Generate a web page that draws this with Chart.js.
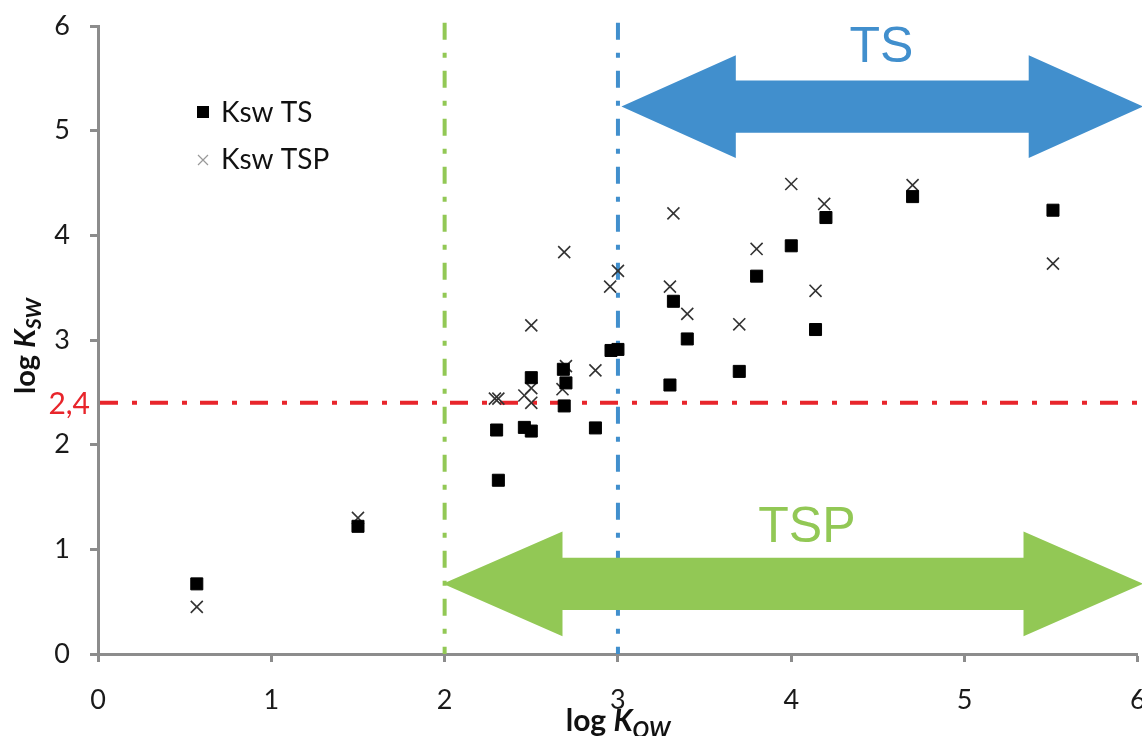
<!DOCTYPE html>
<html>
<head>
<meta charset="utf-8">
<script src="https://cdn.jsdelivr.net/npm/chart.js@4.4.1/dist/chart.umd.min.js"></script>
<style>
  html, body { margin: 0; padding: 0; background: #fff; overflow: hidden; }
  #wrap { width: 1142px; height: 736px; overflow: hidden; }
</style>
</head>
<body>
<div id="wrap"><canvas id="kswChart" width="1148" height="736"></canvas></div>
<script>
// valores (log Kow, log Ksw)
const tsLabel = "Ksw TS";
const tsX = [0.57, 1.50, 2.30, 2.31, 2.46, 2.50, 2.50, 2.685, 2.70, 2.69, 2.87, 2.96, 3.00, 3.30, 3.32, 3.40, 3.70, 3.80, 4.00, 4.14, 4.20, 4.70, 5.51];
const tsY = [0.67, 1.22, 2.14, 1.66, 2.165, 2.13, 2.64, 2.72, 2.59, 2.37, 2.16, 2.90, 2.91, 2.57, 3.37, 3.01, 2.70, 3.61, 3.90, 3.10, 4.17, 4.37, 4.24];

const tspLabel = "Ksw TSP";
const tspX = [0.57, 1.50, 2.29, 2.31, 2.46, 2.50, 2.50, 2.50, 2.69, 2.70, 2.68, 2.87, 2.955, 3.00, 3.30, 3.32, 3.40, 3.70, 3.80, 4.00, 4.14, 4.19, 4.70, 5.51];
const tspY = [0.45, 1.30, 2.44, 2.44, 2.47, 3.14, 2.54, 2.40, 3.84, 2.75, 2.53, 2.71, 3.51, 3.66, 3.51, 4.21, 3.25, 3.15, 3.87, 4.49, 3.47, 4.30, 4.48, 3.73];

// limites
const kswLimit = 2.4;
const kswLimitLabel = "2,4";
const kowTSP = 2;
const kowTS = 3;
const axisTicks = [0, 1, 2, 3, 4, 5, 6];

const fontMain = "Lato, 'Open Sans', sans-serif";
const cores = {
  ts: "#000000",
  tsp: "#333333",
  eixo: "#8c8c8c",
  vermelho: "#E8252B",
  azul: "#418FCD",
  verde: "#92C855",
};

// setas de faixa (em unidades dos eixos)
const setas = [
  { texto: "TS", cor: cores.azul, x0: 3.02, x1: 6.03, y: 5.23, corpo: 0.25, cabeca: 0.49, ponta: 0.66, tx: 4.52, ty: 5.66 },
  { texto: "TSP", cor: cores.verde, x0: 1.99, x1: 6.03, y: 0.67, corpo: 0.25, cabeca: 0.50, ponta: 0.69, tx: 4.09, ty: 1.07 },
];

const toPoints = (xs, ys) => xs.map((x, i) => ({ x: x, y: ys[i] }));

/* linhas de corte tracejadas (desenhadas por baixo dos pontos) */
const linhasPlugin = {
  id: "linhas",
  beforeDatasetsDraw(chart) {
    const { ctx, chartArea, scales } = chart;
    const sx = scales.x, sy = scales.y;
    ctx.save();
    ctx.lineWidth = 4;
    ctx.setLineDash([17, 13, 5, 13]);

    const verticais = [[kowTSP, cores.verde], [kowTS, cores.azul]];
    verticais.forEach(([v, cor]) => {
      const px = sx.getPixelForValue(v);
      ctx.strokeStyle = cor;
      ctx.beginPath();
      ctx.moveTo(px, sy.getPixelForValue(6.03));
      ctx.lineTo(px, chartArea.bottom);
      ctx.stroke();
    });

    const py = sy.getPixelForValue(kswLimit);
    ctx.strokeStyle = cores.vermelho;
    ctx.setLineDash([18, 14, 5, 13]);
    ctx.beginPath();
    ctx.moveTo(chartArea.left + 2, py);
    ctx.lineTo(chart.width, py);
    ctx.stroke();

    ctx.setLineDash([]);
    ctx.fillStyle = cores.vermelho;
    ctx.font = "30px " + fontMain;
    ctx.textAlign = "right";
    ctx.textBaseline = "middle";
    ctx.fillText(kswLimitLabel, chartArea.left - 8, py + 2);
    ctx.restore();
  },
};

/* setas TS / TSP + textos */
const setasPlugin = {
  id: "setas",
  afterDatasetsDraw(chart) {
    const { ctx, scales } = chart;
    const sx = scales.x, sy = scales.y;
    ctx.save();
    setas.forEach((s) => {
      const xa = sx.getPixelForValue(s.x0);
      const xb = sx.getPixelForValue(s.x1);
      const xh1 = sx.getPixelForValue(s.x0 + s.ponta);
      const xh2 = sx.getPixelForValue(s.x1 - s.ponta);
      const yc = sy.getPixelForValue(s.y);
      const bt = sy.getPixelForValue(s.y + s.corpo);
      const bb = sy.getPixelForValue(s.y - s.corpo);
      const ht = sy.getPixelForValue(s.y + s.cabeca);
      const hb = sy.getPixelForValue(s.y - s.cabeca);
      ctx.fillStyle = s.cor;
      ctx.beginPath();
      ctx.moveTo(xa, yc);
      ctx.lineTo(xh1, ht);
      ctx.lineTo(xh1, bt);
      ctx.lineTo(xh2, bt);
      ctx.lineTo(xh2, ht);
      ctx.lineTo(xb, yc);
      ctx.lineTo(xh2, hb);
      ctx.lineTo(xh2, bb);
      ctx.lineTo(xh1, bb);
      ctx.lineTo(xh1, hb);
      ctx.closePath();
      ctx.fill();

      ctx.font = "50px 'Liberation Sans', Arial, sans-serif";
      ctx.textAlign = "center";
      ctx.textBaseline = "alphabetic";
      ctx.fillText(s.texto, sx.getPixelForValue(s.tx), sy.getPixelForValue(s.ty));
    });
    ctx.restore();
  },
};

// texto com subscrito (log K_sub)
function textoSub(ctx, base, k, sub, size) {
  const fBase = "bold " + size + "px " + fontMain;
  const fK = "italic bold " + size + "px " + fontMain;
  const fSub = "italic bold " + Math.round(size * 0.72) + "px " + fontMain;
  ctx.font = fBase; const w1 = ctx.measureText(base).width;
  ctx.font = fK; const w2 = ctx.measureText(k).width;
  ctx.font = fSub; const w3 = ctx.measureText(sub).width;
  let x = -(w1 + w2 + w3) / 2;
  ctx.textAlign = "left";
  ctx.textBaseline = "alphabetic";
  ctx.font = fBase; ctx.fillText(base, x, 0); x += w1;
  ctx.font = fK; ctx.fillText(k, x, 0); x += w2;
  ctx.font = fSub; ctx.fillText(sub, x, size * 0.22);
}

/* títulos dos eixos e legenda */
const extrasPlugin = {
  id: "extras",
  afterDraw(chart) {
    const { ctx } = chart;
    ctx.save();
    ctx.fillStyle = "#111";

    ctx.save();
    ctx.translate(chart.scales.x.getPixelForValue(3), 731);
    textoSub(ctx, "log ", "K", "OW", 30);
    ctx.restore();

    ctx.save();
    ctx.translate(35, 346);
    ctx.rotate(-Math.PI / 2);
    textoSub(ctx, "log ", "K", "SW", 29);
    ctx.restore();

    // legenda
    const lx = 203, ly = [112, 160];
    ctx.fillStyle = cores.ts;
    ctx.fillRect(lx - 6, ly[0] - 6, 12, 12);
    ctx.strokeStyle = "#999";
    ctx.lineWidth = 1.2;
    ctx.beginPath();
    ctx.moveTo(lx - 5, ly[1] - 5); ctx.lineTo(lx + 5, ly[1] + 5);
    ctx.moveTo(lx - 5, ly[1] + 5); ctx.lineTo(lx + 5, ly[1] - 5);
    ctx.stroke();
    ctx.fillStyle = "#111";
    ctx.font = "28px " + fontMain;
    ctx.textAlign = "left";
    ctx.textBaseline = "alphabetic";
    ctx.fillText(chart.data.datasets[0].label, 221, ly[0] + 10);
    ctx.fillText(chart.data.datasets[1].label, 221, ly[1] + 9);
    ctx.restore();
  },
};

const eixo = (extra) => Object.assign({
  type: "linear",
  min: 0,
  max: 6,
  afterBuildTicks: (s) => { s.ticks = axisTicks.map((v) => ({ value: v })); },
  grid: {
    drawOnChartArea: false,
    drawTicks: true,
    tickLength: 8,
    tickWidth: 3,
    tickColor: cores.eixo,
  },
  border: { display: true, color: cores.eixo, width: 3 },
}, extra);

const ctx = document.getElementById("kswChart").getContext("2d");
const kswChart = new Chart(ctx, {
  type: "scatter",
  data: {
    datasets: [
      {
        label: tsLabel,
        data: toPoints(tsX, tsY),
        pointStyle: "rect",
        pointRadius: 8.5,
        backgroundColor: cores.ts,
        borderColor: cores.ts,
        borderWidth: 1,
      },
      {
        label: tspLabel,
        data: toPoints(tspX, tspY),
        pointStyle: "crossRot",
        pointRadius: 8.5,
        borderColor: cores.tsp,
        borderWidth: 1.6,
      },
    ],
  },
  options: {
    responsive: false,
    animation: false,
    events: [],
    layout: { padding: { top: 26, right: 0, left: 0, bottom: 0 } },
    plugins: { legend: { display: false }, tooltip: { enabled: false }, title: { display: false } },
    scales: {
      x: eixo({
        position: "bottom",
        ticks: { color: "#1a1a1a", padding: 22, maxRotation: 0, font: { family: fontMain, size: 27 } },
        afterFit: (s) => { s.height = 82; s.paddingLeft = 0; s.paddingRight = 0; },
      }),
      y: eixo({
        position: "left",
        ticks: { color: "#1a1a1a", padding: 20, font: { family: fontMain, size: 27 } },
        afterFit: (s) => { s.width = 98; s.paddingTop = 0; s.paddingBottom = 0; },
      }),
    },
  },
  plugins: [linhasPlugin, setasPlugin, extrasPlugin],
});
</script>
</body>
</html>
